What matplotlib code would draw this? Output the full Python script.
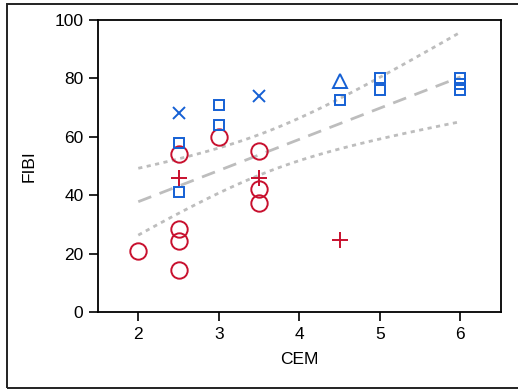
import numpy as np
import matplotlib.pyplot as plt
from matplotlib.patches import Rectangle

plt.rcParams["font.family"] = ["Liberation Sans", "DejaVu Sans"]

RED = "#c8102e"
BLUE = "#1560d4"
GRAY = "#bdbdbd"

# ---------- data per group / marker ----------
red_circle_x = [2, 2.5, 2.5, 2.5, 2.5, 3, 3.5, 3.5, 3.5]
red_circle_y = [21, 54, 28.5, 24.5, 14.6, 60, 55, 42, 37.5]

red_plus_x = [2.5, 3.5, 4.5]
red_plus_y = [46, 46, 24.6]

blue_square_x = [2.5, 2.5, 3, 3, 4.5, 5, 5, 6, 6, 6]
blue_square_y = [58, 41, 71, 64, 72.5, 80, 76, 80, 78, 76]

blue_x_x = [2.5, 3.5]
blue_x_y = [68, 74]

blue_tri_x = [4.5]
blue_tri_y = [79]

x_ticks = [2, 3, 4, 5, 6]
y_ticks = [0, 20, 40, 60, 80, 100]
T_95 = 2.069  # t quantile, df = n - 2 = 23

# ---------- linear fit + 95% band of the mean ----------
xs = np.array(red_circle_x + red_plus_x + blue_square_x + blue_x_x + blue_tri_x, dtype=float)
ys = np.array(red_circle_y + red_plus_y + blue_square_y + blue_x_y + blue_tri_y, dtype=float)
n = len(xs)
slope, intercept = np.polyfit(xs, ys, 1)
resid = ys - (slope * xs + intercept)
s = np.sqrt(np.sum(resid ** 2) / (n - 2))
sxx = np.sum((xs - xs.mean()) ** 2)

xg = np.linspace(xs.min(), xs.max(), 100)
fit = slope * xg + intercept
half = T_95 * s * np.sqrt(1 / n + (xg - xs.mean()) ** 2 / sxx)

# ---------- figure ----------
fig = plt.figure(figsize=(5.18, 3.89), dpi=100)
ax = fig.add_axes([0.1892, 0.1972, 0.9666 - 0.1892, 0.9494 - 0.1972])

ax.plot(xg, fit, color=GRAY, lw=2.0, dashes=(5, 3.2), zorder=1)
ax.plot(xg, fit + half, color=GRAY, lw=2.0, dashes=(1.5, 1.6), zorder=1)
ax.plot(xg, fit - half, color=GRAY, lw=2.0, dashes=(1.5, 1.6), zorder=1)

ax.plot(red_circle_x, red_circle_y, "o", ms=11.8, mfc="none", mec=RED, mew=1.4, zorder=3)
ax.plot(red_plus_x, red_plus_y, "+", ms=11.5, mec=RED, mew=1.4, zorder=3)
ax.plot(blue_square_x, blue_square_y, "s", ms=7.2, mfc="none", mec=BLUE, mew=1.4, zorder=3)
ax.plot(blue_x_x, blue_x_y, "x", ms=8, mec=BLUE, mew=1.4, zorder=3)
ax.plot(blue_tri_x, blue_tri_y, "^", ms=10, mfc="none", mec=BLUE, mew=1.4, zorder=3)

ax.set_xlim(1.5, 6.5)
ax.set_ylim(0, 100)
ax.set_xticks(x_ticks)
ax.set_yticks(y_ticks)
ax.tick_params(direction="out", length=6.5, width=1.2, labelsize=12.5, pad=4, colors="black")
for sp in ax.spines.values():
    sp.set_linewidth(1.3)
    sp.set_color("black")

ax.set_xlabel("CEM", fontsize=12.5, labelpad=7)
ax.set_ylabel("FIBI", fontsize=12.5, labelpad=12.5)

# outer frame
fig.patches.append(Rectangle((7 / 518, 1 / 389), 1.2, 384 / 389, transform=fig.transFigure,
                             fill=False, ec="#222222", lw=1.4, clip_on=False))

fig.savefig("out.png", dpi=100)
